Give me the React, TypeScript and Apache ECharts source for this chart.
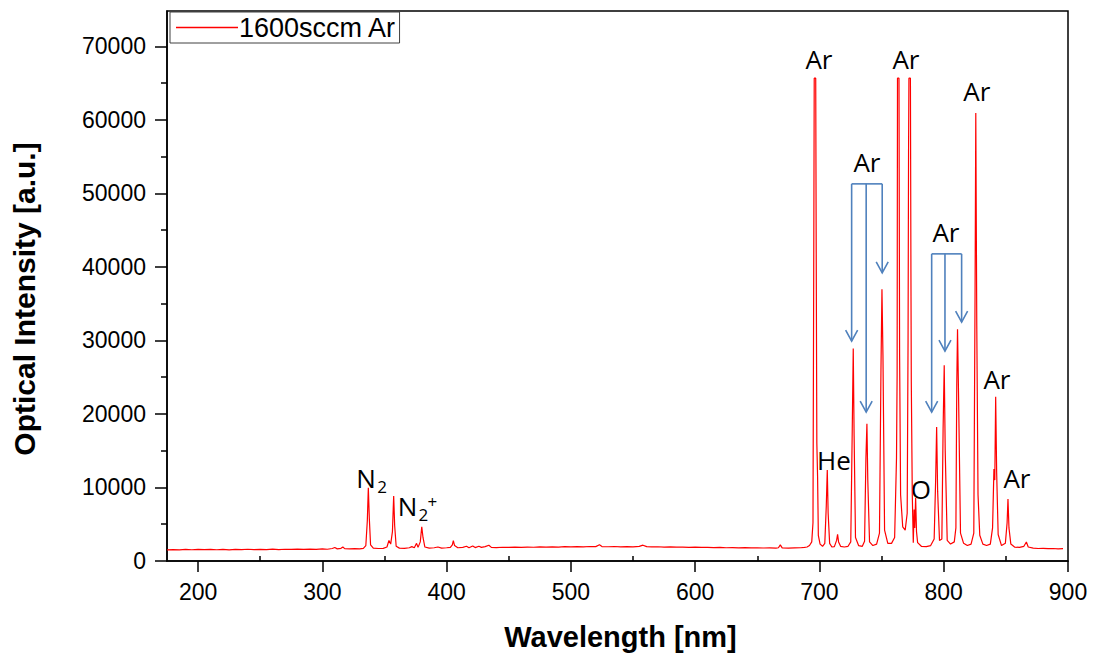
import React, { useEffect, useRef } from "react";
import * as echarts from "echarts";

// ---- Data (wavelength nm, intensity a.u.) ----
const uvSpectrum: [number, number][] = [
  [175, 1520], [180, 1560], [185, 1500], [190, 1570], [195, 1530], [200, 1580], [205, 1540],
  [210, 1590], [215, 1530], [220, 1570], [225, 1520], [230, 1580], [235, 1550], [240, 1600],
  [245, 1540], [250, 1590], [255, 1550], [260, 1610], [265, 1560], [270, 1600], [275, 1570],
  [280, 1620], [285, 1580], [290, 1610], [295, 1590], [300, 1640], [304, 1600], [308, 1700],
  [310, 1830], [312, 1650], [315, 1720], [316.5, 1900], [318, 1680], [322, 1640], [326, 1680],
  [330, 1660], [333, 1720], [335, 2100], [336.2, 5500], [337, 9960], [337.8, 5800], [338.8, 2200],
  [341, 1750], [345, 1700], [349, 1720], [352, 1900], [353.6, 2800], [355, 2300], [356.4, 4000],
  [357.4, 8840], [358.2, 4800], [359.4, 2000], [362, 1750], [366, 1720], [370, 1800], [372, 1950],
  [374, 1800], [375.8, 2400], [377, 1850], [378.8, 2600], [380, 4660], [381, 3200], [382.5, 1900],
  [386, 1750], [390, 1800], [393, 1900], [396, 1760], [400, 1800], [403, 1850], [404.6, 2200],
  [405.4, 2760], [406.4, 2100], [409, 1800], [413, 1850], [416, 2000], [418, 1800], [421, 2050],
  [423, 1820], [426, 2000], [428, 1850], [431, 1950], [434, 2150], [436, 1850], [440, 1820],
  [445, 1870], [450, 1840], [455, 1880], [460, 1850],
];

const visSpectrum: [number, number][] = [
  [465, 1900], [470, 1870], [475, 1920], [480, 1880], [485, 1930], [490, 1900], [495, 1950],
  [500, 1920], [505, 1960], [510, 1930], [515, 1970], [520, 1950], [523, 2200], [525, 1960],
  [530, 1940], [535, 1970], [540, 1930], [545, 1960], [550, 1920], [555, 1980], [558, 2150],
  [561, 1950], [565, 1910], [570, 1940], [575, 1900], [580, 1920], [585, 1880], [590, 1900],
  [595, 1860], [600, 1880], [605, 1840], [610, 1860], [615, 1820], [620, 1840], [625, 1800],
  [630, 1830], [635, 1790], [640, 1810], [645, 1780], [650, 1800], [655, 1770], [660, 1790],
  [665, 1760], [667, 1800], [668.5, 2200], [670, 1780], [675, 1760], [680, 1790], [685, 1800],
  [688, 1850], [690, 1900],
];

const nirSpectrum: [number, number][] = [
  [692, 2100], [693.8, 2600], [694.8, 5200], [695.4, 40000], [695.8, 65670], [697.0, 65670],
  [697.4, 42000], [697.9, 16000], [698.5, 11500], [699.1, 3500], [700.5, 2300], [702.5, 2000],
  [704.3, 2400], [705.5, 7500], [706.3, 12370], [707, 6500], [708.2, 2400], [710, 1900],
  [712, 1950], [713.8, 2800], [714.6, 3630], [715.4, 2600], [717, 2000], [720, 1900], [723, 2000],
  [725.2, 2600], [726.4, 18000], [727.2, 28910], [727.9, 17000], [729, 3200], [731.5, 2100],
  [734.5, 2000], [736.3, 2700], [737.4, 14000], [738.2, 18660], [738.9, 11000], [740.3, 2600],
  [743, 2100], [746, 2300], [748.3, 3800], [749.5, 26000], [750.3, 36940], [751.1, 28000],
  [752.4, 4200], [755, 2400], [758, 2400], [760.5, 3200], [762, 14000], [762.5, 25300],
  [762.8, 65670], [764.0, 65670], [764.5, 28000], [765.3, 9000], [767, 4650], [769, 4200],
  [770.6, 6500], [771.3, 30000], [771.7, 55650], [772.0, 65670], [773.2, 65670], [773.6, 40000],
  [773.9, 24400], [774.7, 9000], [775.5, 2500], [776.2, 7000], [776.7, 4500], [777.4, 8560],
  [778.1, 4000], [779, 2500], [782, 2000], [786, 1950], [789.5, 2100], [792.3, 3000],
  [793.5, 11000], [794.3, 18210], [795.1, 9500], [796.6, 2800], [798.5, 3000], [799.5, 18000],
  [800.4, 26610], [801.2, 15000], [802.8, 2800], [805.5, 2300], [808.5, 2600], [809.8, 4500],
  [810.5, 24000], [811.1, 31530], [811.9, 23000], [813.5, 3800], [816, 2400], [819, 2100],
  [822, 2300], [824.2, 3800], [825.2, 36000], [825.8, 60930], [826.6, 32000], [827.6, 9000],
  [829, 3500], [831.5, 2300], [834.5, 2100], [837.5, 2300], [839.3, 4500], [840.4, 12500],
  [841.1, 11000], [841.8, 22330], [842.6, 12000], [843.8, 3600], [846.5, 2100], [849.6, 2400],
  [851, 5200], [851.7, 8430], [852.5, 4500], [854, 2300], [857, 1900], [861, 1850], [864.5, 2000],
  [866.5, 2580], [868, 1900], [872, 1750], [876, 1700], [880, 1720], [884, 1680], [888, 1700],
  [892, 1660], [896, 1680],
];

const seriesName = "1600sccm Ar";

// Axis ticks
const xMajorTicks = [200, 300, 400, 500, 600, 700, 800, 900];
const xMinorTicks = [250, 350, 450, 550, 650, 750, 850];
const yMajorTicks = [0, 10000, 20000, 30000, 40000, 50000, 60000, 70000];
const yMinorTicks = [5000, 15000, 25000, 35000, 45000, 55000, 65000];

// Peak annotations: [text, wavelength, intensity] (text centre)
const peakLabels: [string, number, number][] = [
  ["Ar", 699.6, 68230],
  ["Ar", 769.6, 68230],
  ["Ar", 826.7, 63890],
  ["Ar", 738.2, 54230],
  ["Ar", 801.8, 44720],
  ["Ar", 842.8, 24740],
  ["Ar", 858.9, 11280],
  ["He", 711.7, 13730],
  ["O", 781.7, 9790],
];
// Molecular labels: [main, subscript, superscript, wavelength, intensity]
const moleculeLabels: [string, string, string, number, number][] = [
  ["N", "2", "", 335.2, 11280],
  ["N", "2", "+", 368.5, 7480],
];

// Bracketed arrow groups: bar intensity, arrow wavelengths, arrow tip intensities
const bracketBarY = [51290, 41770];
const bracketArrowX = [
  [725.9, 737.6, 750.5],
  [790.3, 801.0, 814.4],
];
const bracketArrowTipY = [
  [29900, 20250, 39200],
  [20250, 28540, 32490],
];

const AXIS_FONT = "Liberation Sans, Arial, sans-serif";
const NOTE_FONT = "Open Sans, sans-serif";
const ARROW_COLOR = "#4f81bd";

export default function App() {
  const ref = useRef<HTMLDivElement>(null);

  useEffect(() => {
    const chart = echarts.init(ref.current!, null, { renderer: "svg" });
    const data = [...uvSpectrum, ...visSpectrum, ...nirSpectrum];

    const xBase = { type: "value", min: 175, max: 900, splitLine: { show: false } };
    const yBase = { type: "value", min: 0, max: 74800, splitLine: { show: false } };

    chart.setOption({
      animation: false,
      backgroundColor: "#ffffff",
      grid: {
        left: 167,
        right: 25,
        top: 11,
        bottom: 95,
        show: true,
        borderColor: "#000",
        borderWidth: 1.5,
        backgroundColor: "transparent",
      },
      legend: {
        left: 170,
        top: 12,
        orient: "horizontal",
        data: [{ name: seriesName, icon: "rect" }],
        itemWidth: 62,
        itemHeight: 1.5,
        itemGap: 0,
        padding: [1, 3, 1, 6],
        borderColor: "#404040",
        borderWidth: 1,
        backgroundColor: "#fff",
        textStyle: {
          fontFamily: AXIS_FONT,
          fontSize: 27,
          color: "#000",
          lineHeight: 29,
          padding: [0, 0, 0, -4],
        },
      },
      xAxis: [
        {
          ...xBase,
          name: "Wavelength [nm]",
          nameLocation: "middle",
          nameGap: 61,
          nameTextStyle: { fontFamily: AXIS_FONT, fontSize: 29, fontWeight: "bold", color: "#000", padding: [0, 0, 0, 6] },
          axisLine: { show: true, onZero: false, lineStyle: { color: "#000", width: 1.5 } },
          axisTick: { show: true, inside: false, length: 11, customValues: xMajorTicks, lineStyle: { color: "#000", width: 1.5 } },
          axisLabel: { show: true, customValues: xMajorTicks, margin: 19, fontFamily: AXIS_FONT, fontSize: 23, color: "#000" },
        },
        {
          ...xBase,
          axisLine: { show: false },
          axisTick: { show: true, inside: false, length: 5, customValues: xMinorTicks, lineStyle: { color: "#000", width: 1.5 } },
          axisLabel: { show: false, customValues: xMinorTicks },
        },
      ],
      yAxis: [
        {
          ...yBase,
          name: "Optical Intensity [a.u.]",
          nameLocation: "middle",
          nameGap: 128,
          nameTextStyle: { fontFamily: AXIS_FONT, fontSize: 30, fontWeight: "bold", color: "#000", padding: [0, 26, 0, 0] },
          axisLine: { show: true, onZero: false, lineStyle: { color: "#000", width: 1.5 } },
          axisTick: { show: true, inside: false, length: 12, customValues: yMajorTicks, lineStyle: { color: "#000", width: 1.5 } },
          axisLabel: {
            show: true,
            customValues: yMajorTicks,
            margin: 21,
            fontFamily: AXIS_FONT,
            fontSize: 23,
            color: "#000",
            formatter: (v: number) => String(v),
          },
        },
        {
          ...yBase,
          position: "left",
          axisLine: { show: false },
          axisTick: { show: true, inside: false, length: 6, customValues: yMinorTicks, lineStyle: { color: "#000", width: 1.5 } },
          axisLabel: { show: false, customValues: yMinorTicks },
        },
      ],
      series: [
        {
          name: seriesName,
          type: "line",
          xAxisIndex: 0,
          yAxisIndex: 0,
          data,
          symbol: "none",
          showSymbol: false,
          smooth: false,
          clip: true,
          lineStyle: { color: "#ff0000", width: 1.2 },
          itemStyle: { color: "#ff0000" },
        },
      ],
    });

    const px = (x: number, y: number) =>
      chart.convertToPixel({ xAxisIndex: 0, yAxisIndex: 0 }, [x, y]) as number[];

    const graphics: any[] = [];
    peakLabels.forEach(([t, x, y]) => {
      const [cx, cy] = px(x, y);
      graphics.push({
        type: "text",
        x: cx,
        y: cy,
        style: { text: t, fontFamily: NOTE_FONT, fontSize: 26, fill: "#000", align: "center", verticalAlign: "middle" },
      });
    });
    moleculeLabels.forEach(([main, sub, sup, x, y]) => {
      const [cx, cy] = px(x, y);
      graphics.push({
        type: "text",
        x: cx,
        y: cy,
        style: { text: main, fontFamily: NOTE_FONT, fontSize: 26, fill: "#000", align: "center", verticalAlign: "middle" },
      });
      graphics.push({
        type: "text",
        x: cx + 16,
        y: cy + 8,
        style: { text: sub, fontFamily: NOTE_FONT, fontSize: 17, fill: "#000", align: "center", verticalAlign: "middle" },
      });
      if (sup) {
        graphics.push({
          type: "text",
          x: cx + 25,
          y: cy - 5,
          style: { text: sup, fontFamily: NOTE_FONT, fontSize: 17, fill: "#000", align: "center", verticalAlign: "middle" },
        });
      }
    });

    const stroke = { stroke: ARROW_COLOR, lineWidth: 1.6, fill: "none" };
    bracketBarY.forEach((barY, gi) => {
      const xs = bracketArrowX[gi];
      const tips = bracketArrowTipY[gi];
      const [lx, by] = px(xs[0], barY);
      const [rx] = px(xs[xs.length - 1], barY);
      graphics.push({ type: "line", shape: { x1: lx, y1: by, x2: rx, y2: by }, style: stroke });
      xs.forEach((ax, ai) => {
        const [tx, ty] = px(ax, tips[ai]);
        graphics.push({ type: "line", shape: { x1: tx, y1: by, x2: tx, y2: ty }, style: stroke });
        graphics.push({
          type: "polyline",
          shape: { points: [[tx - 6, ty - 11], [tx, ty], [tx + 6, ty - 11]] },
          style: stroke,
        });
      });
    });

    chart.setOption({ graphic: graphics });

    return () => chart.dispose();
  }, []);

  return (
    <div
      ref={ref}
      style={{ position: "fixed", left: 0, top: 0, width: 1093, height: 656, background: "#fff" }}
    />
  );
}
